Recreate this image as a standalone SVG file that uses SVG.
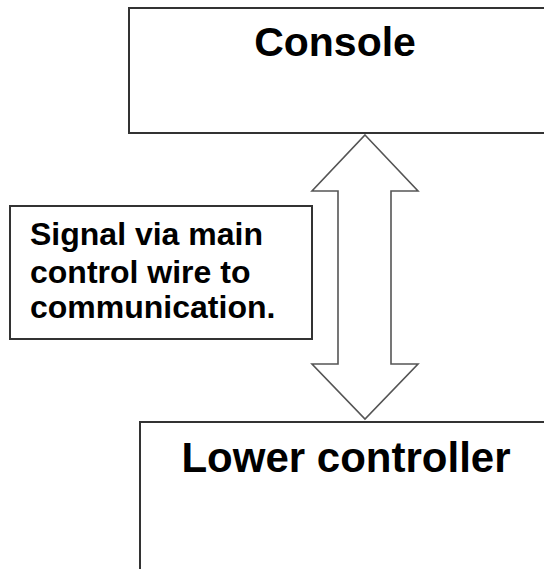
<svg xmlns="http://www.w3.org/2000/svg" width="544" height="569" viewBox="0 0 544 569">
<style>
.box{fill:#fff;stroke:#333;stroke-width:2}
.t{font-family:"Liberation Sans",Arial,sans-serif;font-weight:bold;fill:#000}
.arrow{fill:#fff;stroke:#555;stroke-width:1.6;stroke-linejoin:miter}
</style>
<rect width="544" height="569" fill="#fff"/>
<g id="console">
<rect class="box" x="129" y="8" width="430" height="125"/>
<text class="t" x="335" y="56" font-size="41" text-anchor="middle">Console</text>
</g>
<g id="lower-controller">
<rect class="box" x="140" y="422" width="420" height="160"/>
<text class="t" x="346" y="472" font-size="42" text-anchor="middle">Lower controller</text>
</g>
<g id="connectors">
<polygon class="arrow" points="365,135 418,191 391,191 391,364 418,364 365,419 312,364 338,364 338,191 312,191"/>
</g>
<g id="label">
<rect class="box" x="10" y="206" width="302" height="133" stroke="#111"/>
<text class="t" font-size="32">
<tspan x="30" y="245">Signal via main</tspan>
<tspan x="30" y="283">control wire to</tspan>
<tspan x="30" y="318">communication.</tspan>
</text>
</g>
</svg>
